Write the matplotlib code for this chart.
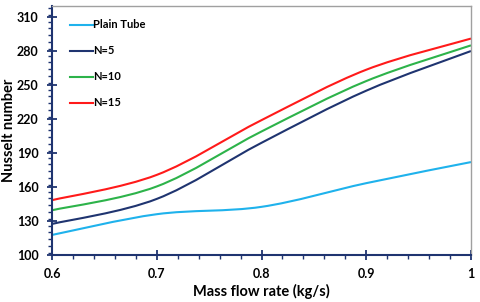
import matplotlib
matplotlib.use('Agg')
import matplotlib.pyplot as plt
from matplotlib.path import Path
from matplotlib.patches import PathPatch
from matplotlib.lines import Line2D
from matplotlib.ticker import MultipleLocator

plt.rcParams['font.family'] = ['Lato', 'DejaVu Sans']

# values
mass_flow = [0.6, 0.7, 0.8, 0.9, 1.0]
plain_tube = [117.7, 136, 142.5, 163.4, 182]
n5 = [127.4, 149.5, 199, 245, 280]
n10 = [139.5, 160.5, 209, 253.5, 285]
n15 = [148.4, 170.7, 219, 263.5, 291]

series = [
    ('Plain Tube', plain_tube, '#1FB2EC'),
    ('N=5', n5, '#1F3470'),
    ('N=10', n10, '#2DB34A'),
    ('N=15', n15, '#FF1A1A'),
]

navy = '#1F3470'


def smooth_path(xs, ys):
    # Excel-style smoothed line: cubic bezier through every point
    pts = list(zip(xs, ys))
    verts = [pts[0]]
    codes = [Path.MOVETO]
    n = len(pts)
    for i in range(n - 1):
        p0 = pts[max(i - 1, 0)]
        p1 = pts[i]
        p2 = pts[i + 1]
        p3 = pts[min(i + 2, n - 1)]
        c1 = (p1[0] + (p2[0] - p0[0]) / 6, p1[1] + (p2[1] - p0[1]) / 6)
        c2 = (p2[0] - (p3[0] - p1[0]) / 6, p2[1] - (p3[1] - p1[1]) / 6)
        verts += [c1, c2, p2]
        codes += [Path.CURVE4] * 3
    return Path(verts, codes)


fig = plt.figure(figsize=(4.8, 3.02), dpi=100)
ax = fig.add_axes([52/480, 1 - 255/302, (471 - 52)/480, (255 - 5.7)/302])

handles = []
for label, vals, color in series:
    ax.add_patch(PathPatch(smooth_path(mass_flow, vals), facecolor='none',
                           edgecolor=color, lw=1.5, clip_on=False))
    handles.append(Line2D([], [], color=color, lw=1.5, label=label))

ax.set_xlim(0.6, 1.0)
ax.set_ylim(100, 320)
ax.xaxis.set_minor_locator(MultipleLocator(0.02))
ax.yaxis.set_minor_locator(MultipleLocator(6))
ax.set_xticks([0.6, 0.7, 0.8, 0.9, 1.0])
ax.set_xticklabels(['0.6', '0.7', '0.8', '0.9', '1'])
ax.set_yticks(range(100, 311, 30))

for s in ['left', 'bottom']:
    ax.spines[s].set_color(navy)
    ax.spines[s].set_linewidth(1.5)
for s in ['top', 'right']:
    ax.spines[s].set_color('#A0A0A0')
    ax.spines[s].set_linewidth(1.0)

ax.tick_params(which='major', direction='inout', length=7, width=1.3, color=navy,
               labelsize=9, pad=6)
ax.tick_params(which='minor', direction='out', length=3, width=1.0, color=navy)
for t in ax.get_xticklabels() + ax.get_yticklabels():
    t.set_fontweight('bold')

ax.set_xlabel('Mass flow rate (kg/s)', fontsize=10.5, fontweight='bold', labelpad=3)
ax.set_ylabel('Nusselt number', fontsize=10.5, fontweight='bold', labelpad=1)

ax.legend(handles=handles, loc='upper left', bbox_to_anchor=(0.02, 0.985),
          frameon=False, prop={'size': 8, 'weight': 'bold'}, labelspacing=1.35,
          handlelength=2.0, handletextpad=0.05)

fig.savefig('out.png', dpi=100)
